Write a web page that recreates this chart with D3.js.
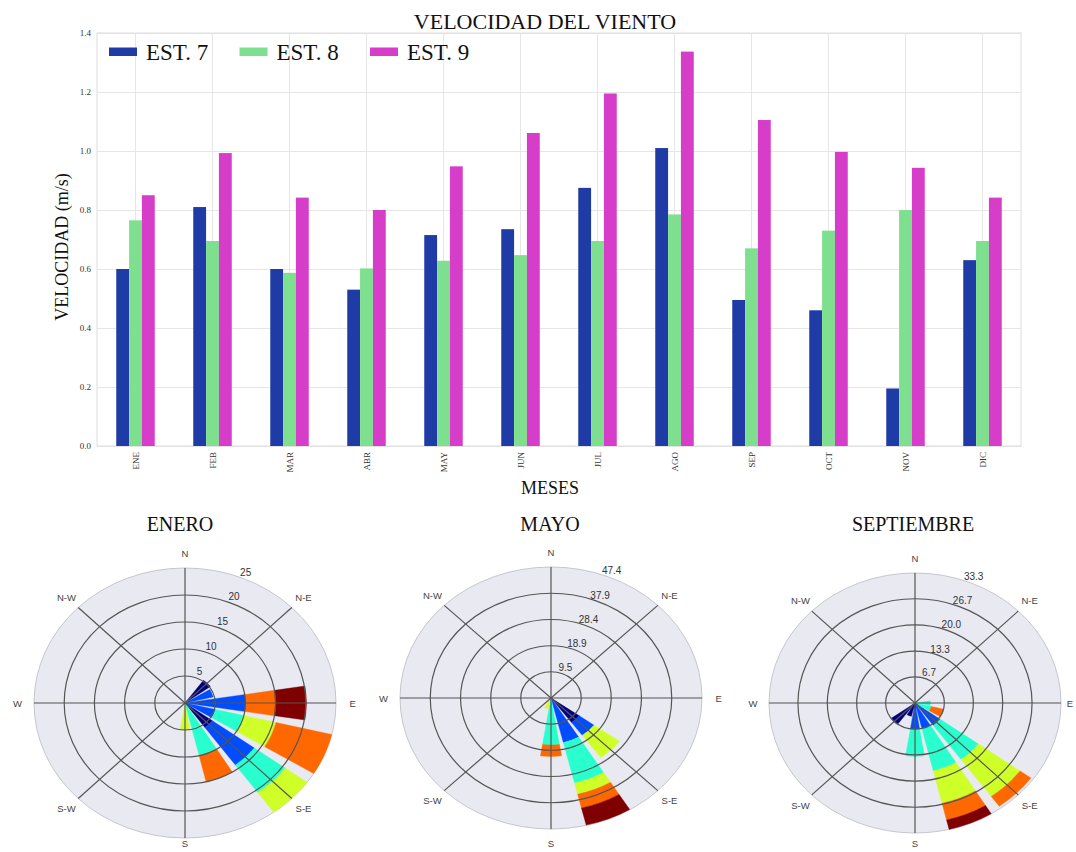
<!DOCTYPE html>
<html>
<head>
<meta charset="utf-8">
<script src="https://cdn.jsdelivr.net/npm/d3@7"></script>
<style>
	body { margin: 0; background: #fff; }
	svg { display: block; }
</style>
</head>
<body>
<div id="app"></div>
<script>
// velocidad media mensual (m/s)
const months = ['ENE', 'FEB', 'MAR', 'ABR', 'MAY', 'JUN', 'JUL', 'AGO', 'SEP', 'OCT', 'NOV', 'DIC'];
const stations = ['EST. 7', 'EST. 8', 'EST. 9'];
const est7 = [0.60, 0.81, 0.60, 0.53, 0.715, 0.735, 0.875, 1.01, 0.495, 0.46, 0.195, 0.63];
const est8 = [0.765, 0.695, 0.587, 0.602, 0.628, 0.647, 0.695, 0.785, 0.67, 0.73, 0.80, 0.695];
const est9 = [0.85, 0.993, 0.842, 0.80, 0.948, 1.061, 1.195, 1.337, 1.105, 0.997, 0.943, 0.842];
const yTicks = [0, 0.2, 0.4, 0.6, 0.8, 1.0, 1.2, 1.4];

// rosas de viento: frecuencia (%) por direccion y rango de velocidad (de dentro hacia fuera)
const directions = ['N', 'NNE', 'NE', 'ENE', 'E', 'ESE', 'SE', 'SSE', 'S', 'SSW', 'SW', 'WSW', 'W', 'WNW', 'NW', 'NNW'];
const compassLabels = ['N', 'N-E', 'E', 'S-E', 'S', 'S-W', 'W', 'N-W'];
const eneroRose = [
	['NE', 5.2, 0, 0, 0, 0, 0],
	['ENE', 0, 4.8, 0, 0, 0, 0],
	['E', 0, 10.1, 0, 0, 4.9, 5.1],
	['ESE', 0, 5.2, 4.8, 5.5, 9.5, 0],
	['SE', 5.6, 8.6, 6.3, 4.5, 0, 0],
	['SSE', 0, 0, 10, 0, 5, 0],
	['S', 0, 0, 0, 5, 0, 0],
];
const eneroTicks = [5, 10, 15, 20, 25];
const mayoRose = [
	['SE', 11, 5.7, 0, 9.9, 0, 0],
	['SSE', 0, 16.6, 15, 4.2, 5.1, 6.4],
	['S', 0, 0, 17, 0, 4.2, 0],
	['SSW', 0, 0, 0, 4, 0, 0],
];
const mayoTicks = [9.5, 18.9, 28.4, 37.9, 47.4];
const septRose = [
	['E', 0, 0, 3.5, 0, 0, 0],
	['ESE', 0, 0, 3.8, 0, 3, 0],
	['SE', 0, 7.1, 10.8, 11.7, 3.1, 0],
	['SSE', 0, 6.8, 11.1, 8.5, 4.4, 2.5],
	['S', 1.5, 5.3, 6.9, 0, 0, 0],
	['SSW', 3.5, 0, 0, 0, 0, 0],
	['SW', 6.8, 0, 0, 0, 0, 0],
];
const septTicks = [6.7, 13.3, 20.0, 26.7, 33.3];

const barColors = ['#1f3ca6', '#7ee08e', '#d63dc9'];
const binColors = ['#00007f', '#004cff', '#29ffce', '#ceff29', '#ff6800', '#7f0000'];
const serif = '"Liberation Serif", "Times New Roman", serif';
const sans = '"Liberation Sans", Arial, sans-serif';

const width = 1076;
const height = 852;
const svg = d3.select('#app').append('svg')
	.attr('width', width)
	.attr('height', height);

// ---- barras ----
const plot = {left: 97, right: 1021, top: 33, bottom: 446};

const x = d3.scaleBand()
	.domain(months)
	.range([plot.left, plot.right])
	.paddingInner(0.5)
	.paddingOuter(0.25);
const xSub = d3.scaleBand()
	.domain(stations)
	.range([0, x.bandwidth()]);
const y = d3.scaleLinear()
	.domain([0, 1.4])
	.range([plot.bottom, plot.top]);

svg.append('g')
	.attr('transform', `translate(${plot.left},0)`)
	.call(d3.axisLeft(y)
		.tickValues(yTicks)
		.tickFormat(d3.format('.1f'))
		.tickSize(-(plot.right - plot.left))
		.tickPadding(6))
	.call((g) => g.select('.domain').remove())
	.call((g) => g.selectAll('line').attr('stroke', '#e6e6e6'))
	.call((g) => g.selectAll('text')
		.attr('font-family', serif)
		.attr('font-size', 9)
		.attr('fill', '#333'));

svg.append('g')
	.attr('transform', `translate(0,${plot.bottom})`)
	.call(d3.axisBottom(x)
		.tickSize(-(plot.bottom - plot.top)))
	.call((g) => g.select('.domain').remove())
	.call((g) => g.selectAll('line').attr('stroke', '#e6e6e6'))
	.call((g) => g.selectAll('text')
		.attr('transform', 'rotate(-90)')
		.attr('x', -6)
		.attr('y', 0)
		.attr('dy', '0.35em')
		.attr('text-anchor', 'end')
		.attr('font-family', serif)
		.attr('font-size', 9)
		.attr('fill', '#333'));

svg.append('rect')
	.attr('x', plot.left)
	.attr('y', plot.top)
	.attr('width', plot.right - plot.left)
	.attr('height', plot.bottom - plot.top)
	.attr('fill', 'none')
	.attr('stroke', '#dddddd');

const series = [est7, est8, est9];
svg.append('g')
	.selectAll('g')
	.data(series)
	.join('g')
	.attr('fill', (d, i) => barColors[i])
	.selectAll('rect')
	.data((d, i) => d.map((value, j) => ({month: months[j], station: stations[i], value})))
	.join('rect')
	.attr('x', (d) => x(d.month) + xSub(d.station))
	.attr('width', xSub.bandwidth())
	.attr('y', (d) => y(d.value))
	.attr('height', (d) => y(0) - y(d.value));

svg.append('text')
	.attr('x', 545)
	.attr('y', 29)
	.attr('text-anchor', 'middle')
	.attr('font-family', serif)
	.attr('font-size', 22)
	.attr('fill', '#111')
	.text('VELOCIDAD DEL VIENTO');

svg.append('text')
	.attr('transform', 'translate(68,247) rotate(-90)')
	.attr('text-anchor', 'middle')
	.attr('font-family', serif)
	.attr('font-size', 18)
	.attr('fill', '#111')
	.text('VELOCIDAD (m/s)');

svg.append('text')
	.attr('x', 550)
	.attr('y', 494)
	.attr('text-anchor', 'middle')
	.attr('font-family', serif)
	.attr('font-size', 18)
	.attr('fill', '#111')
	.text('MESES');

const legend = svg.append('g')
	.selectAll('g')
	.data(stations)
	.join('g')
	.attr('transform', (d, i) => `translate(${109 + i * 130.5},0)`);
legend.append('rect')
	.attr('y', 47.5)
	.attr('width', 28)
	.attr('height', 8.5)
	.attr('fill', (d, i) => barColors[i]);
legend.append('text')
	.attr('x', 37)
	.attr('y', 60)
	.attr('font-family', serif)
	.attr('font-size', 23)
	.attr('fill', '#111')
	.text((d) => d);

// ---- rosas de viento ----
const R = 100;
const step = 2 * Math.PI / directions.length;
const halfWidth = 0.8 * step / 2;
const angleOf = (dir) => directions.indexOf(dir) * step;

const roses = [
	{title: 'ENERO', data: eneroRose, ticks: eneroTicks, fmt: 'd', cx: 185, cy: 703, rx: 151, ry: 135, titleX: 180},
	{title: 'MAYO', data: mayoRose, ticks: mayoTicks, fmt: '.1f', cx: 551, cy: 698, rx: 151, ry: 131, titleX: 550},
	{title: 'SEPTIEMBRE', data: septRose, ticks: septTicks, fmt: '.1f', cx: 915, cy: 703, rx: 146, ry: 130, titleX: 913},
];

roses.forEach((rose) => {
	const r = d3.scaleLinear().domain([0, d3.max(rose.ticks)]).range([0, R]);
	const toScreen = (rad, angle) => [
		rose.cx + rose.rx / R * rad * Math.sin(angle),
		rose.cy - rose.ry / R * rad * Math.cos(angle),
	];

	svg.append('text')
		.attr('x', rose.titleX)
		.attr('y', 531)
		.attr('text-anchor', 'middle')
		.attr('font-family', serif)
		.attr('font-size', 20)
		.attr('fill', '#111')
		.text(rose.title);

	const g = svg.append('g')
		.attr('transform', `translate(${rose.cx},${rose.cy}) scale(${rose.rx / R},${rose.ry / R})`);

	g.append('circle')
		.attr('r', R)
		.attr('fill', '#e9e9f1')
		.attr('stroke', '#c6c6cf')
		.attr('stroke-width', 1)
		.attr('vector-effect', 'non-scaling-stroke');

	const segments = [];
	rose.data.forEach(([dir, ...bins]) => {
		let acc = 0;
		bins.forEach((v, k) => {
			if (v > 0) segments.push({dir, bin: k, r0: acc, r1: acc + v});
			acc += v;
		});
	});

	const arc = d3.arc()
		.innerRadius((d) => r(d.r0))
		.outerRadius((d) => r(Math.min(d.r1, d3.max(rose.ticks))))
		.startAngle((d) => angleOf(d.dir) - halfWidth)
		.endAngle((d) => angleOf(d.dir) + halfWidth);

	g.selectAll('path')
		.data(segments)
		.join('path')
		.attr('d', arc)
		.attr('fill', (d) => binColors[d.bin])
		.attr('stroke', (d) => binColors[d.bin])
		.attr('stroke-width', 0.4)
		.attr('vector-effect', 'non-scaling-stroke');

	g.selectAll('.ring')
		.data(rose.ticks.slice(0, -1))
		.join('circle')
		.attr('class', 'ring')
		.attr('r', (d) => r(d))
		.attr('fill', 'none')
		.attr('stroke', '#555')
		.attr('stroke-width', 1.2)
		.attr('vector-effect', 'non-scaling-stroke');

	g.selectAll('.spoke')
		.data(compassLabels)
		.join('line')
		.attr('class', 'spoke')
		.attr('x2', (d, i) => R * Math.sin(i * Math.PI / 4))
		.attr('y2', (d, i) => -R * Math.cos(i * Math.PI / 4))
		.attr('stroke', '#555')
		.attr('stroke-width', 1.2)
		.attr('vector-effect', 'non-scaling-stroke');

	svg.append('g')
		.selectAll('text')
		.data(rose.ticks)
		.join('text')
		.attr('x', (d) => toScreen(r(d) + 5, Math.PI / 8)[0])
		.attr('y', (d) => toScreen(r(d) + 5, Math.PI / 8)[1])
		.attr('text-anchor', 'middle')
		.attr('dominant-baseline', 'central')
		.attr('font-family', sans)
		.attr('font-size', 10)
		.attr('fill', '#333')
		.text((d) => d3.format(rose.fmt)(d));

	// etiquetas de rumbo, sin salirse del lienzo
	svg.append('g')
		.selectAll('text')
		.data(compassLabels)
		.join('text')
		.attr('x', (d, i) => Math.min(toScreen(R * 1.11, i * Math.PI / 4)[0], width - 6))
		.attr('y', (d, i) => Math.min(toScreen(R * 1.11, i * Math.PI / 4)[1], height - 9))
		.attr('text-anchor', 'middle')
		.attr('dominant-baseline', 'central')
		.attr('font-family', sans)
		.attr('font-size', 9.5)
		.attr('fill', '#444')
		.text((d) => d);
});
</script>
</body>
</html>
